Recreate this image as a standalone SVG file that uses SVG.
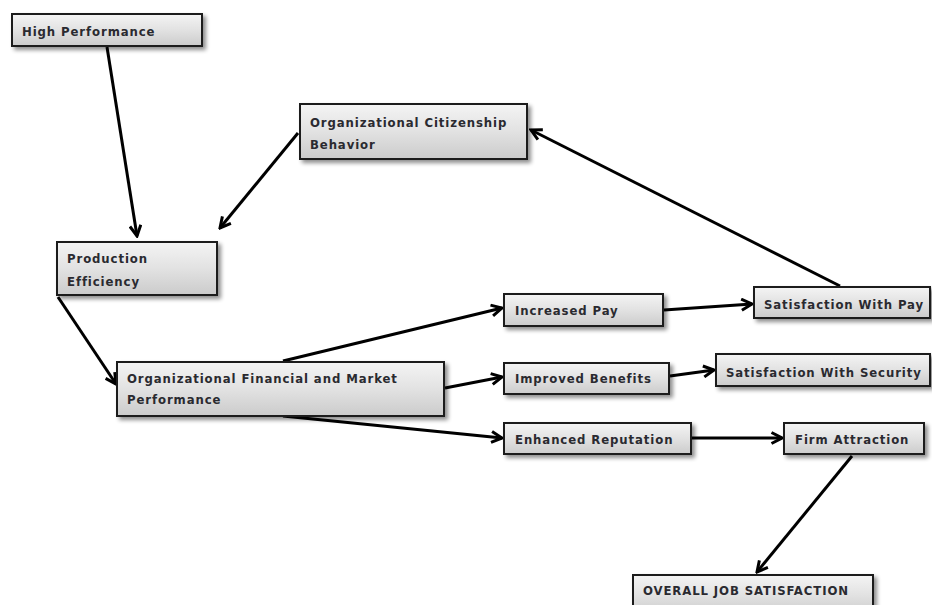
<svg xmlns="http://www.w3.org/2000/svg" width="932" height="605" viewBox="0 0 932 605">
<defs>
<linearGradient id="g" x1="0" y1="0" x2="0" y2="1">
<stop offset="0" stop-color="#f4f4f4"/>
<stop offset="0.5" stop-color="#e2e2e2"/>
<stop offset="1" stop-color="#cbcbcb"/>
</linearGradient>
<filter id="sh" x="-10%" y="-20%" width="130%" height="160%">
<feGaussianBlur in="SourceAlpha" stdDeviation="2"/>
<feOffset dx="3" dy="3" result="b"/>
<feComponentTransfer><feFuncA type="linear" slope="0.45"/></feComponentTransfer>
<feMerge><feMergeNode/><feMergeNode in="SourceGraphic"/></feMerge>
</filter>
<marker id="ah" viewBox="0 0 14 14" refX="12" refY="7" markerWidth="14" markerHeight="14" markerUnits="userSpaceOnUse" orient="auto">
<path d="M1.5,1.5 L12,7 L1.5,12.5" fill="none" stroke="#000" stroke-width="3" stroke-linejoin="miter"/>
</marker>
</defs>
<style>
.box{fill:url(#g);stroke:#1a1a1a;stroke-width:2;filter:url(#sh)}
.t{font-family:"DejaVu Sans Condensed","DejaVu Sans",sans-serif;font-weight:bold;font-size:13px;letter-spacing:0.9px;fill:#2a2a30}
.c{fill:none;stroke:#000;stroke-width:3;marker-end:url(#ah)}
</style>
<g id="connectors">
<line class="c" x1="107" y1="47" x2="137" y2="236"/>
<line class="c" x1="298" y1="133" x2="220" y2="228"/>
<line class="c" x1="840" y1="286" x2="531" y2="130"/>
<line class="c" x1="58" y1="297" x2="116" y2="384"/>
<line class="c" x1="283" y1="361" x2="502" y2="308"/>
<line class="c" x1="445" y1="388" x2="502" y2="377"/>
<line class="c" x1="283" y1="416" x2="502" y2="438"/>
<line class="c" x1="664" y1="310" x2="752" y2="304"/>
<line class="c" x1="670" y1="376" x2="714" y2="370"/>
<line class="c" x1="692" y1="438" x2="782" y2="438"/>
<line class="c" x1="852" y1="456" x2="757" y2="572"/>
</g>
<g id="high-performance"><rect class="box" x="12" y="14" width="190" height="32"/><text class="t" x="22" y="36">High Performance</text></g>
<g id="ocb"><rect class="box" x="300" y="104" width="227" height="55"/><text class="t" x="310" y="127">Organizational Citizenship</text><text class="t" x="310" y="149">Behavior</text></g>
<g id="production-efficiency"><rect class="box" x="57" y="242" width="160" height="53"/><text class="t" x="67" y="263">Production</text><text class="t" x="67" y="286">Efficiency</text></g>
<g id="ofmp"><rect class="box" x="117" y="362" width="327" height="54"/><text class="t" x="127" y="383">Organizational Financial and Market</text><text class="t" x="127" y="404">Performance</text></g>
<g id="increased-pay"><rect class="box" x="504" y="294" width="159" height="32"/><text class="t" x="515" y="315">Increased Pay</text></g>
<g id="sat-pay"><rect class="box" x="754" y="287" width="176" height="31"/><text class="t" x="764" y="309">Satisfaction With Pay</text></g>
<g id="improved-benefits"><rect class="box" x="504" y="363" width="165" height="31"/><text class="t" x="515" y="383">Improved Benefits</text></g>
<g id="sat-security"><rect class="box" x="716" y="354" width="214" height="32"/><text class="t" x="726" y="377">Satisfaction With Security</text></g>
<g id="enhanced-reputation"><rect class="box" x="504" y="423" width="187" height="31"/><text class="t" x="515" y="444">Enhanced Reputation</text></g>
<g id="firm-attraction"><rect class="box" x="784" y="423" width="140" height="31"/><text class="t" x="795" y="444">Firm Attraction</text></g>
<g id="overall"><rect class="box" x="633" y="575" width="240" height="40"/><text class="t" x="643" y="595">OVERALL JOB SATISFACTION</text></g>
</svg>
